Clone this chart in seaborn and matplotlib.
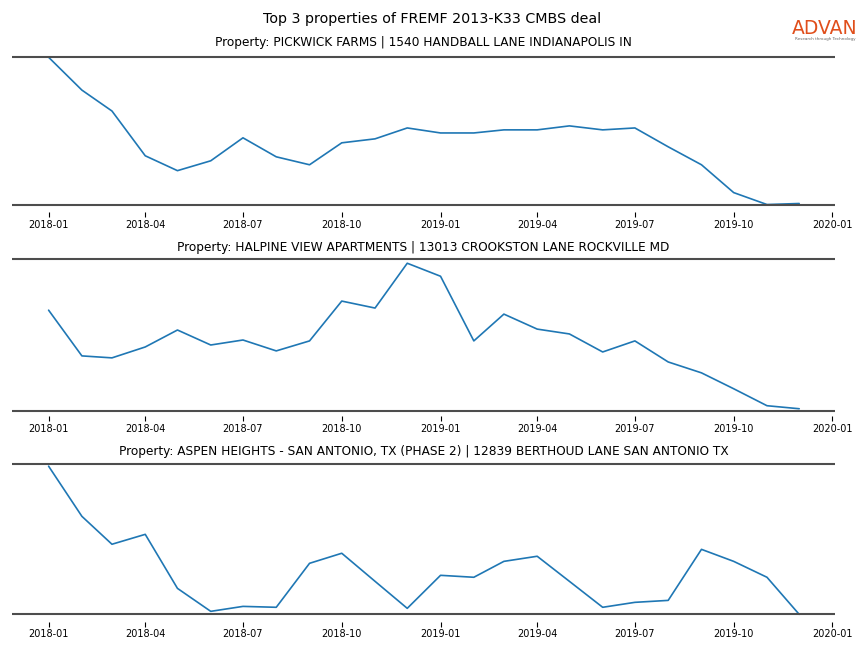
import matplotlib
matplotlib.use('Agg')
import matplotlib.pyplot as plt
import matplotlib.dates as mdates
import seaborn as sns
import pandas as pd

# monthly index, relative visit volume per property
months = pd.date_range('2018-01-01', periods=24, freq='MS')

pickwick = [100, 77.7, 63.5, 33.1, 23.0, 29.7, 45.3, 32.4, 27.0, 41.9, 44.6, 52.0,
            48.6, 48.6, 50.7, 50.7, 53.4, 50.7, 52.0, 39.2, 27.0, 8.1, 0.0, 0.7]
halpine = [66.4, 36.2, 34.9, 42.1, 53.3, 43.4, 46.7, 39.5, 46.1, 72.4, 67.8, 97.4,
           88.8, 46.1, 63.8, 53.9, 50.7, 38.8, 46.1, 32.2, 25.0, 14.5, 3.3, 1.3]
aspen = [98.7, 65.3, 46.7, 53.3, 17.3, 2.0, 5.3, 4.7, 34.0, 40.7, 22.0, 4.0,
         26.0, 24.7, 35.3, 38.7, 22.0, 4.7, 8.0, 9.3, 43.3, 35.3, 24.7, 0.0]

titles = [
    'Property: PICKWICK FARMS | 1540 HANDBALL LANE INDIANAPOLIS IN',
    'Property: HALPINE VIEW APARTMENTS | 13013 CROOKSTON LANE ROCKVILLE MD',
    'Property: ASPEN HEIGHTS - SAN ANTONIO, TX (PHASE 2) | 12839 BERTHOUD LANE SAN ANTONIO TX',
]
series = [pickwick, halpine, aspen]
band_low = [0, 0, 0]
band_high = [100, 100, 100]

sns.set_style('white')
plt.rcParams['text.color'] = 'black'
plt.rcParams['xtick.color'] = 'black'

fig = plt.figure(figsize=(8.64, 6.48), dpi=100)
boxes = [(0.014, 0.673, 0.952, 0.250),
         (0.014, 0.358, 0.952, 0.247),
         (0.014, 0.0405, 0.952, 0.2515)]
pads = [2.5, 3.5, 3.0]

for box, vals, title, lo, hi, pad in zip(boxes, series, titles, band_low, band_high, pads):
    ax = fig.add_axes(box)
    df = pd.DataFrame({'month': months, 'value': vals})
    sns.lineplot(data=df, x='month', y='value', ax=ax, color='#1f77b4', linewidth=1.2)
    ax.axhline(lo, color='#4d4d4d', linewidth=1.5)
    ax.axhline(hi, color='#4d4d4d', linewidth=1.5)
    ax.set_title(title, fontsize=8.7, pad=pad, color='black')
    ax.set_xlabel('')
    ax.set_ylabel('')
    ax.set_yticks([])
    for s in ax.spines.values():
        s.set_visible(False)
    ax.xaxis.set_major_locator(mdates.MonthLocator(bymonth=[1, 4, 7, 10]))
    ax.xaxis.set_major_formatter(mdates.DateFormatter('%Y-%m'))
    ax.tick_params(axis='x', bottom=True, length=3.5, width=0.8, labelsize=7, pad=2,
                   colors='black')
    ax.set_xlim(pd.Timestamp('2017-11-28'), pd.Timestamp('2020-01-03'))

fig.suptitle('Top 3 properties of FREMF 2013-K33 CMBS deal', fontsize=10.3, y=0.982,
             color='black')

# logo
fig.text(0.955, 0.956, 'ADVAN', color='#e04e1b', fontsize=13.5, ha='center', va='center')
fig.text(0.955, 0.94, 'Research through Technology', color='#666666', fontsize=3, ha='center', va='center')

fig.savefig('out.png', dpi=100)
